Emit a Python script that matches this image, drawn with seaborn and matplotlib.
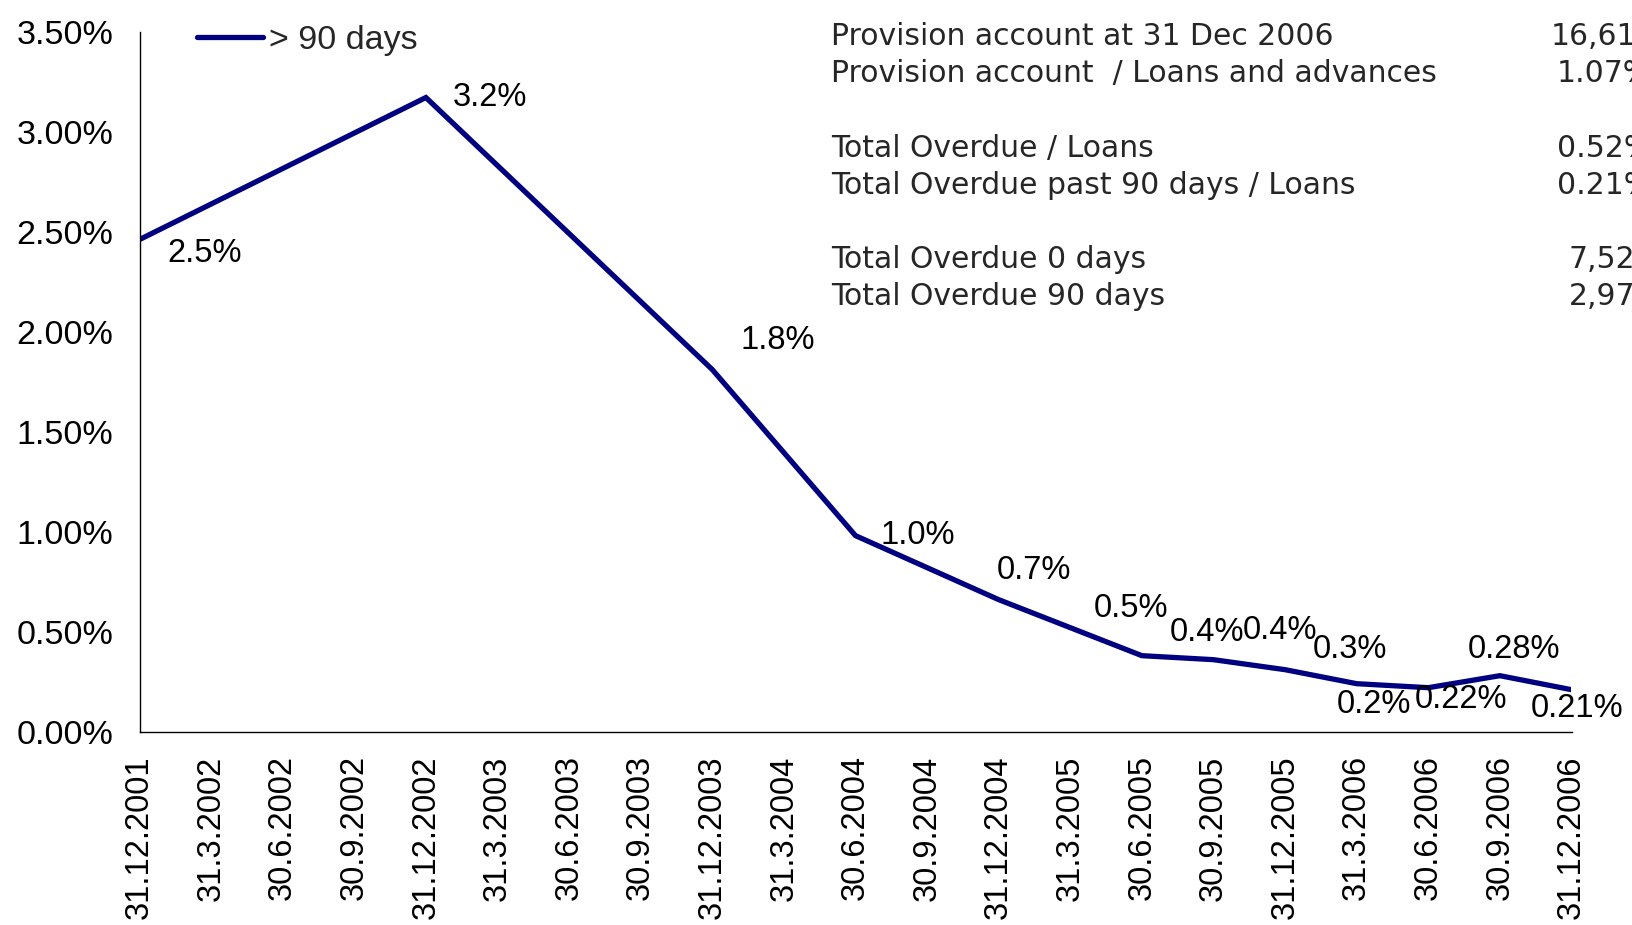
import pandas as pd
import matplotlib
matplotlib.use("Agg")
import matplotlib.pyplot as plt
import seaborn as sns
from matplotlib.ticker import FuncFormatter

# ---- data ----
dates = ["31.12.2001", "31.3.2002", "30.6.2002", "30.9.2002", "31.12.2002",
         "31.3.2003", "30.6.2003", "30.9.2003", "31.12.2003", "31.3.2004",
         "30.6.2004", "30.9.2004", "31.12.2004", "31.3.2005", "30.6.2005",
         "30.9.2005", "31.12.2005", "31.3.2006", "30.6.2006", "30.9.2006",
         "31.12.2006"]

known_dates = ["31.12.2001", "31.12.2002", "31.12.2003", "30.6.2004", "31.12.2004",
               "31.3.2005", "30.6.2005", "30.9.2005", "31.12.2005", "31.3.2006",
               "30.6.2006", "30.9.2006", "31.12.2006"]
overdue_90 = [2.46, 3.17, 1.81, 0.98, 0.66, 0.52, 0.38, 0.36, 0.31, 0.24, 0.22, 0.28, 0.21]
point_labels = ["2.5%", "3.2%", "1.8%", "1.0%", "0.7%", "0.5%", "0.4%", "0.4%",
                "0.3%", "0.2%", "0.22%", "0.28%", "0.21%"]

summary_labels = ["Provision account at 31 Dec 2006",
                  "Provision account  / Loans and advances",
                  "",
                  "Total Overdue / Loans",
                  "Total Overdue past 90 days / Loans",
                  "",
                  "Total Overdue 0 days",
                  "Total Overdue 90 days"]
summary_values = ["16,61", "1.07%", "", "0.52%", "0.21%", "", "7,52", "2,97"]

# label offsets in pixels (dx, dy) from each point
label_offsets = [(65, -14), (64, 0), (65, 29), (62, 0), (35, 29), (61, 19), (65, 23),
                 (66, 29), (65, 20), (17, -21), (33, -12), (14, 26), (6, -19)]
value_x = [1551, 1557, 0, 1557, 1557, 0, 1569, 1569]

df = pd.DataFrame({"date": known_dates, "value": overdue_90})
df["pos"] = [dates.index(d) for d in known_dates]

# ---- plot ----
sns.set_style("white")
plt.rcParams["font.family"] = ["Liberation Sans", "DejaVu Sans"]

W, H = 1633, 925
fig = plt.figure(figsize=(W / 100, H / 100), dpi=100)
ax = fig.add_axes([139.5 / W, 1 - 731.7 / H, (1571.5 - 139.5) / W, (731.7 - 31.5) / H])

navy = "#000080"
sns.lineplot(data=df, x="pos", y="value", color=navy, lw=3.8, ax=ax,
             label="> 90 days", solid_joinstyle="miter")

for (x, y), txt, (dx, dy) in zip(zip(df["pos"], df["value"]), point_labels, label_offsets):
    ax.annotate(txt, (x, y), xytext=(dx, dy), textcoords="offset pixels",
                ha="center", va="center", fontsize=23.5, color="black")

ax.set_xlim(0, len(dates) - 1)
ax.set_ylim(0, 3.5)
ax.set_yticks([0, 0.5, 1.0, 1.5, 2.0, 2.5, 3.0, 3.5])
ax.yaxis.set_major_formatter(FuncFormatter(lambda v, _: f"{v:.2f}%"))
ax.set_xticks(range(len(dates)))
ax.set_xticklabels(dates, rotation=90)
ax.set_xlabel("")
ax.set_ylabel("")

for s in ["top", "right"]:
    ax.spines[s].set_visible(False)
for s in ["left", "bottom"]:
    ax.spines[s].set_color("black")
    ax.spines[s].set_linewidth(1.0)
ax.tick_params(axis="both", direction="out", length=10, width=1, color="black",
               labelcolor="black")
ax.tick_params(axis="y", pad=9, labelsize=24.5)
ax.tick_params(axis="x", pad=7, labelsize=23.5)

ax.legend(loc="center left", bbox_to_anchor=(197 / W, 1 - 40 / H),
          bbox_transform=fig.transFigure, frameon=False, fontsize=24.5,
          handlelength=1.95, handletextpad=0.18, borderpad=0, borderaxespad=0)

# ---- summary block ----
for i, (lab, val) in enumerate(zip(summary_labels, summary_values)):
    yb = 1 - (45 + i * 37.2) / H
    if lab:
        fig.text(831 / W, yb, lab, fontsize=21.5, va="baseline", ha="left",
                 family=["DejaVu Sans"])
    if val:
        fig.text(value_x[i] / W, yb, val, fontsize=21.5, va="baseline", ha="left",
                 family=["DejaVu Sans"])

fig.savefig("out.png", dpi=100)
